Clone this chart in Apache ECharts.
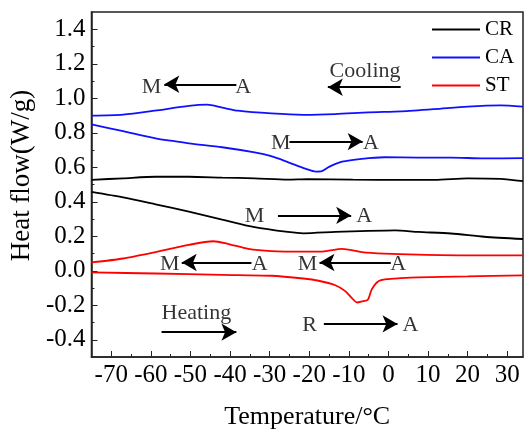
<!DOCTYPE html>
<html>
<head>
<meta charset="utf-8">
<script src="https://cdn.jsdelivr.net/npm/echarts@6/dist/echarts.min.js"></script>
<style>
  html, body { margin: 0; padding: 0; background: #fff; }
  #chart { width: 526px; height: 435px; }
</style>
</head>
<body>
<div id="chart"></div>
<script>
// DSC curves, [temperature, heat flow]
const crCooling = [[-75, 0.527], [-67, 0.536], [-58.8, 0.545], [-50.4, 0.545], [-42, 0.540], [-33.8, 0.536], [-25.4, 0.528], [-20.5, 0.531], [-9, 0.528], [3.3, 0.527], [11.7, 0.527], [20, 0.536], [28.3, 0.533], [34, 0.519]]
const crHeating = [[-75, 0.457], [-67, 0.425], [-58.8, 0.385], [-50.4, 0.343], [-42, 0.297], [-33.8, 0.253], [-25.4, 0.225], [-21.5, 0.217], [-13.4, 0.225], [-5, 0.231], [1.7, 0.234], [7.5, 0.225], [15.8, 0.216], [24.2, 0.197], [34, 0.184]]
const caCooling = [[-75, 0.899], [-67, 0.905], [-59, 0.928], [-50.4, 0.956], [-45.8, 0.963], [-42, 0.946], [-38, 0.928], [-29.6, 0.912], [-21.5, 0.904], [-13.4, 0.908], [-5, 0.918], [3.3, 0.924], [11.7, 0.937], [20, 0.952], [28.3, 0.959], [34, 0.952]]
const caHeating = [[-75, 0.848], [-67, 0.809], [-58.8, 0.767], [-50.4, 0.739], [-42, 0.716], [-33.8, 0.686], [-29.6, 0.664], [-25.4, 0.63], [-21, 0.592], [-18.3, 0.575], [-17, 0.576], [-15, 0.602], [-11.7, 0.632], [-6.7, 0.649], [-1, 0.658], [7.5, 0.656], [15.8, 0.656], [24.2, 0.651], [34, 0.653]]
const stCooling = [[-75, 0.048], [-67, 0.071], [-58.8, 0.108], [-50.4, 0.150], [-44.2, 0.171], [-40.4, 0.155], [-35.4, 0.127], [-29.6, 0.114], [-21.5, 0.111], [-16.7, 0.111], [-11.7, 0.127], [-6.7, 0.108], [-1, 0.099], [7.5, 0.093], [20, 0.089], [34, 0.089]]
const stHeating = [[-75, -0.010], [-58.8, -0.016], [-42, -0.024], [-29.6, -0.029], [-21.5, -0.045], [-17.6, -0.058], [-13.4, -0.084], [-10.9, -0.118], [-9.2, -0.159], [-7.9, -0.184], [-6.7, -0.178], [-5.2, -0.168], [-4.2, -0.108], [-2.6, -0.062], [-0.5, -0.049], [3, -0.043], [7.5, -0.038], [20, -0.033], [34, -0.027]]

// axis ticks
const xTicks = [-70, -60, -50, -40, -30, -20, -10, 0, 10, 20, 30]
const xMinorTicks = [-65, -55, -45, -35, -25, -15, -5, 5, 15, 25]
const yTicks = [-0.4, -0.2, 0, 0.2, 0.4, 0.6, 0.8, 1.0, 1.2, 1.4]
const yMinorTicks = [-0.3, -0.1, 0.1, 0.3, 0.5, 0.7, 0.9, 1.1, 1.3]

// annotations: [x, y, text] and arrows [x1, y1, x2, y2] (tail -> head)
const notes = [
  [-59.8, 1.066, 'M'], [-36.7, 1.066, 'A'],
  [-5.9, 1.155, 'Cooling'],
  [-27.2, 0.738, 'M'], [-4.4, 0.738, 'A'],
  [-33.8, 0.314, 'M'], [-6.1, 0.314, 'A'],
  [-55.2, 0.037, 'M'], [-32.5, 0.037, 'A'],
  [-20.4, 0.037, 'M'], [2.5, 0.037, 'A'],
  [-48.5, -0.248, 'Heating'],
  [-19.9, -0.318, 'R'], [5.6, -0.318, 'A']
]
const arrows = [
  [-38.4, 1.081, -56.6, 1.081],
  [3.1, 1.064, -15.3, 1.064],
  [-25, 0.749, -6.5, 0.749],
  [-27.9, 0.321, -9.4, 0.321],
  [-34.6, 0.048, -52.2, 0.048],
  [0.6, 0.048, -17.4, 0.048],
  [-57.3, -0.356, -38.4, -0.356],
  [-16.3, -0.308, 2.3, -0.308]
]

const font = 'Liberation Serif'
const chart = echarts.init(document.getElementById('chart'))

function curve(name, data, color) {
  return {
    name: name,
    type: 'line',
    data: data,
    symbol: 'none',
    smooth: 0.25,
    lineStyle: { color: color, width: 1.8 },
    itemStyle: { color: color },
    silent: true
  }
}

const option = {
  animation: false,
  backgroundColor: '#fff',
  grid: {
    left: 87, top: 12, width: 436, height: 353,
    show: true, borderColor: '#222', borderWidth: 1.5
  },
  legend: {
    data: ['CR', 'CA', 'ST'],
    orient: 'vertical',
    left: 432, top: 19,
    padding: 0,
    icon: 'rect',
    itemWidth: 48, itemHeight: 2, itemGap: 7,
    textStyle: { fontFamily: font, fontSize: 21, lineHeight: 20, color: '#000' }
  },
  xAxis: [
    {
      type: 'value', min: -75, max: 34,
      name: 'Temperature/°C', nameLocation: 'middle', nameGap: 47,
      nameTextStyle: { fontFamily: font, fontSize: 26, color: '#000' },
      axisLine: { onZero: false, lineStyle: { color: '#222', width: 1.5 } },
      axisTick: { inside: true, length: 6, customValues: xTicks, lineStyle: { color: '#222' } },
      axisLabel: { customValues: xTicks, margin: 6, fontFamily: font, fontSize: 25, color: '#000' },
      splitLine: { show: false }
    },
    {
      type: 'value', min: -75, max: 34, position: 'bottom',
      axisLine: { show: false, onZero: false },
      axisTick: { inside: true, length: 3, customValues: xMinorTicks, lineStyle: { color: '#222' } },
      axisLabel: { show: false },
      splitLine: { show: false }
    }
  ],
  yAxis: [
    {
      type: 'value', min: -0.5, max: 1.5,
      name: 'Heat flow(W/g)', nameLocation: 'middle', nameGap: 45,
      nameTextStyle: { fontFamily: font, fontSize: 27, color: '#000', padding: [0, 0, 0, 18] },
      axisLine: { show: true, onZero: false, lineStyle: { color: '#222', width: 1.5 } },
      axisTick: { show: true, inside: true, length: 6, customValues: yTicks, lineStyle: { color: '#222' } },
      axisLabel: {
        customValues: yTicks, margin: 6, fontFamily: font, fontSize: 25, color: '#000',
        formatter: v => v.toFixed(1)
      },
      splitLine: { show: false }
    },
    {
      type: 'value', min: -0.5, max: 1.5, position: 'left',
      axisLine: { show: false, onZero: false },
      axisTick: { show: true, inside: true, length: 3, customValues: yMinorTicks, lineStyle: { color: '#222' } },
      axisLabel: { show: false },
      splitLine: { show: false }
    }
  ],
  series: [
    curve('CR', crCooling, '#000'),
    curve('CR', crHeating, '#000'),
    curve('CA', caCooling, '#1010ff'),
    curve('CA', caHeating, '#1010ff'),
    curve('ST', stCooling, '#ff0000'),
    curve('ST', stHeating, '#ff0000'),
    {
      name: 'notes',
      type: 'scatter',
      data: notes,
      symbolSize: 1,
      itemStyle: { color: 'transparent' },
      silent: true,
      label: {
        show: true, position: 'inside',
        formatter: p => p.value[2],
        fontFamily: font, fontSize: 22, color: '#000'
      },
      markLine: {
        silent: true,
        symbol: ['none', 'arrow'],
        symbolSize: [13, 15],
        label: { show: false },
        lineStyle: { color: '#000', width: 2.2, type: 'solid' },
        data: arrows.map(a => [{ coord: [a[0], a[1]] }, { coord: [a[2], a[3]] }])
      }
    }
  ]
}

chart.setOption(option)
</script>
</body>
</html>
